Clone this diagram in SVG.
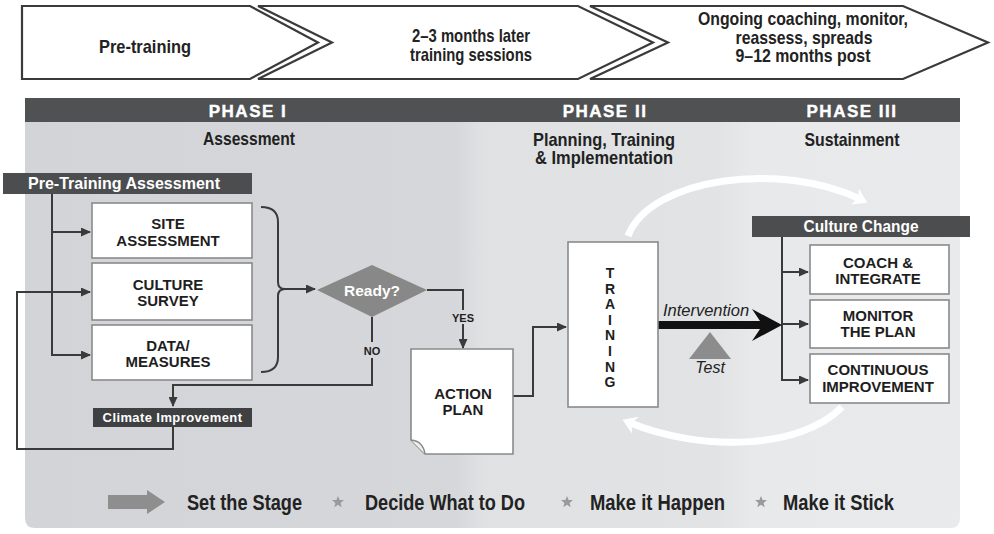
<svg xmlns="http://www.w3.org/2000/svg" width="994" height="534" viewBox="0 0 994 534">
<defs>
<style>
.n{font-family:'Liberation Sans Narrow','Liberation Sans',Arial,sans-serif;font-weight:bold;fill:#222}
.b{font-family:'Liberation Sans',Arial,sans-serif;font-weight:bold;fill:#1e1e1e}
.i{font-family:'Liberation Sans',Arial,sans-serif;font-style:italic;fill:#222}
.w{fill:#fff}
.m{text-anchor:middle}
.box{fill:#fff;stroke:#8a8a8a;stroke-width:1.6}
.bar{fill:#4c4d4f}
.ln{fill:none;stroke:#3a3a3a;stroke-width:2}
.chev{fill:#fff;stroke:#3a3a3a;stroke-width:2.2}
.arc{fill:none;stroke:#fff;stroke-width:7}
.ph{font-family:'Liberation Sans',Arial,sans-serif;font-weight:bold;fill:#fff;font-size:17px;letter-spacing:1.5px;text-anchor:middle;stroke:#fff;stroke-width:0.4}
</style>
<linearGradient id="pg" x1="0" y1="0" x2="1" y2="0">
<stop offset="0" stop-color="#d2d4d7"/>
<stop offset="0.46" stop-color="#d5d7da"/>
<stop offset="0.49" stop-color="#dfe1e3"/>
<stop offset="0.74" stop-color="#e1e3e5"/>
<stop offset="0.78" stop-color="#e8e9eb"/>
<stop offset="1" stop-color="#e9eaec"/>
</linearGradient>
<marker id="ah" markerUnits="userSpaceOnUse" markerWidth="10" markerHeight="9" refX="9" refY="4.5" orient="auto">
<path d="M0,0 L10,4.5 L0,9 Z" fill="#3a3a3a"/>
</marker>
<marker id="wh" markerUnits="userSpaceOnUse" markerWidth="22" markerHeight="22" refX="8" refY="11" orient="auto">
<path d="M0,2 L14,11 L0,20 L4,11 Z" fill="#fff"/>
</marker>
<polygon id="star" points="0,-6 1.6,-2 6,-1.9 2.6,0.9 3.7,5.2 0,2.8 -3.7,5.2 -2.6,0.9 -6,-1.9 -1.6,-2" fill="#9a9a9a"/>
</defs>
<rect width="994" height="534" fill="#fff"/>

<g id="timeline">
<path class="chev" d="M22,6 H250 L318,42.5 L250,79 H22 Z"/>
<path class="chev" d="M258,6 H578 L653,42.5 L578,79 H258 L332,42.5 Z"/>
<path class="chev" d="M590,6 H903 L988,42.5 L903,79 H590 L668,42.5 Z"/>
<text class="n m" x="145" y="53" font-size="19" textLength="92" lengthAdjust="spacingAndGlyphs">Pre-training</text>
<text class="n m" x="471" y="42" font-size="19" textLength="118" lengthAdjust="spacingAndGlyphs">2–3 months later</text>
<text class="n m" x="471" y="61" font-size="19" textLength="122" lengthAdjust="spacingAndGlyphs">training sessions</text>
<text class="n m" x="803" y="25" font-size="19" textLength="210" lengthAdjust="spacingAndGlyphs">Ongoing coaching, monitor,</text>
<text class="n m" x="804" y="43.5" font-size="19" textLength="137" lengthAdjust="spacingAndGlyphs">reassess, spreads</text>
<text class="n m" x="803" y="62" font-size="19" textLength="135" lengthAdjust="spacingAndGlyphs">9–12 months post</text>
</g>

<g id="panel">
<path d="M25,98 H960 V518 Q960,528 950,528 H35 Q25,528 25,518 Z" fill="url(#pg)"/>
<rect x="25" y="98" width="935" height="24" fill="#505153"/>
<text class="ph" x="248" y="117">PHASE I</text>
<text class="ph" x="605" y="117">PHASE II</text>
<text class="ph" x="852" y="117">PHASE III</text>
<text class="n m" x="249" y="145" font-size="18.5" textLength="92" lengthAdjust="spacingAndGlyphs">Assessment</text>
<text class="n m" x="604" y="146" font-size="18.5" textLength="142" lengthAdjust="spacingAndGlyphs">Planning, Training</text>
<text class="n m" x="604" y="164" font-size="18.5" textLength="138" lengthAdjust="spacingAndGlyphs">&amp; Implementation</text>
<text class="n m" x="852" y="146" font-size="18.5" textLength="95" lengthAdjust="spacingAndGlyphs">Sustainment</text>
</g>

<g id="cycle-arcs">
<path class="arc" d="M628,236 C650,178 780,160 862,200" marker-end="url(#wh)"/>
<path class="arc" d="M842,407 C800,450 700,452 628,422" marker-end="url(#wh)"/>
</g>

<g id="connectors">
<path class="ln" d="M52,194 V355 H90" marker-end="url(#ah)"/>
<path class="ln" d="M52,232 H90" marker-end="url(#ah)"/>
<path class="ln" d="M173,427 V449 H17 V292 H90" marker-end="url(#ah)"/>
<path class="ln" d="M261,207 Q278,207 278,222 V282 Q278,289 285,289 Q278,289 278,296 V357 Q278,372 261,372"/>
<path class="ln" d="M285,289 H315" marker-end="url(#ah)"/>
<path class="ln" d="M427,290 H463 V310"/>
<path class="ln" d="M463,324 V348" marker-end="url(#ah)"/>
<path class="ln" d="M372,317 V342"/>
<path class="ln" d="M372,358 V385 H173 V406" marker-end="url(#ah)"/>
<path class="ln" d="M513,396 H533 V327 H566" marker-end="url(#ah)"/>
<path class="ln" d="M782,237 V380 H808" marker-end="url(#ah)"/>
<path class="ln" d="M782,272 H808" marker-end="url(#ah)"/>
<path class="ln" d="M782,324 H808" marker-end="url(#ah)"/>
<polygon points="658,321 760,321 752,309 782,325 752,341 760,329 658,329" fill="#111"/>
<text class="i m" x="706" y="316" font-size="16.5">Intervention</text>
<text class="b m" x="463" y="322" font-size="11">YES</text>
<text class="b m" x="372" y="355" font-size="11">NO</text>
</g>

<g id="pre-training-assessment">
<rect class="bar" x="3" y="173" width="249" height="21"/>
<text class="n w m" x="124" y="189" font-size="17" textLength="192" lengthAdjust="spacingAndGlyphs">Pre-Training Assessment</text>
</g>
<g id="site-assessment">
<rect class="box" x="92" y="203" width="160" height="55"/>
<text class="b m" x="168" y="229" font-size="15">SITE</text>
<text class="b m" x="168" y="246" font-size="15">ASSESSMENT</text>
</g>
<g id="culture-survey">
<rect class="box" x="92" y="263" width="160" height="57"/>
<text class="b m" x="168" y="290" font-size="15">CULTURE</text>
<text class="b m" x="168" y="306" font-size="15">SURVEY</text>
</g>
<g id="data-measures">
<rect class="box" x="92" y="325" width="160" height="55"/>
<text class="b m" x="168" y="351" font-size="15">DATA/</text>
<text class="b m" x="168" y="367" font-size="15">MEASURES</text>
</g>
<g id="climate-improvement">
<rect x="93" y="408" width="159" height="19" fill="#3f4042"/>
<text class="b w m" x="172.5" y="422" font-size="13" letter-spacing="0.4">Climate Improvement</text>
</g>
<g id="ready">
<polygon points="317,290 372,265 427,290 372,317" fill="#888"/>
<text class="b w m" x="372" y="296" font-size="15.5">Ready?</text>
</g>
<g id="action-plan">
<path d="M411,349 H513 V454 H425 L411,440 Z" fill="#fff" stroke="#8a8a8a" stroke-width="1.6"/>
<path d="M411,440 Q423,441 425,454" fill="#eee" stroke="#8a8a8a" stroke-width="1.4"/>
<text class="b m" x="463" y="399" font-size="15">ACTION</text>
<text class="b m" x="463" y="415" font-size="15">PLAN</text>
</g>
<g id="training">
<rect class="box" x="568" y="242" width="90" height="165"/>
<text class="b m" x="610" font-size="14"><tspan x="610" y="278">T</tspan><tspan x="610" y="293.6">R</tspan><tspan x="610" y="309.2">A</tspan><tspan x="610" y="324.8">I</tspan><tspan x="610" y="340.4">N</tspan><tspan x="610" y="356">I</tspan><tspan x="610" y="371.6">N</tspan><tspan x="610" y="387.2">G</tspan></text>
</g>
<g id="test">
<polygon points="710,332 731,359 689,359" fill="#8c8c8c"/>
<text class="i m" x="710" y="373" font-size="16">Test</text>
</g>
<g id="culture-change">
<rect class="bar" x="752" y="216" width="218" height="21"/>
<text class="n w m" x="861" y="232" font-size="17" textLength="115" lengthAdjust="spacingAndGlyphs">Culture Change</text>
</g>
<g id="coach-integrate">
<rect class="box" x="810" y="245" width="139" height="49"/>
<text class="b m" x="878" y="268" font-size="15">COACH &amp;</text>
<text class="b m" x="878" y="284" font-size="15">INTEGRATE</text>
</g>
<g id="monitor-plan">
<rect class="box" x="810" y="300" width="139" height="48"/>
<text class="b m" x="878" y="321" font-size="15">MONITOR</text>
<text class="b m" x="878" y="337" font-size="15">THE  PLAN</text>
</g>
<g id="continuous-improvement">
<rect class="box" x="810" y="354" width="139" height="49"/>
<text class="b m" x="878" y="375" font-size="15">CONTINUOUS</text>
<text class="b m" x="878" y="392" font-size="15">IMPROVEMENT</text>
</g>

<g id="legend">
<path d="M108,495 H147 V490 L165,502 L147,514 V509 H108 Z" fill="#8e8e8e"/>
<text class="n" x="187" y="510" font-size="22" textLength="115" lengthAdjust="spacingAndGlyphs">Set the Stage</text>
<use href="#star" x="338" y="502"/>
<text class="n" x="365" y="510" font-size="22" textLength="160" lengthAdjust="spacingAndGlyphs">Decide What to Do</text>
<use href="#star" x="567" y="502"/>
<text class="n" x="590" y="510" font-size="22" textLength="135" lengthAdjust="spacingAndGlyphs">Make it Happen</text>
<use href="#star" x="761" y="502"/>
<text class="n" x="783" y="510" font-size="22" textLength="111" lengthAdjust="spacingAndGlyphs">Make it Stick</text>
</g>
</svg>
